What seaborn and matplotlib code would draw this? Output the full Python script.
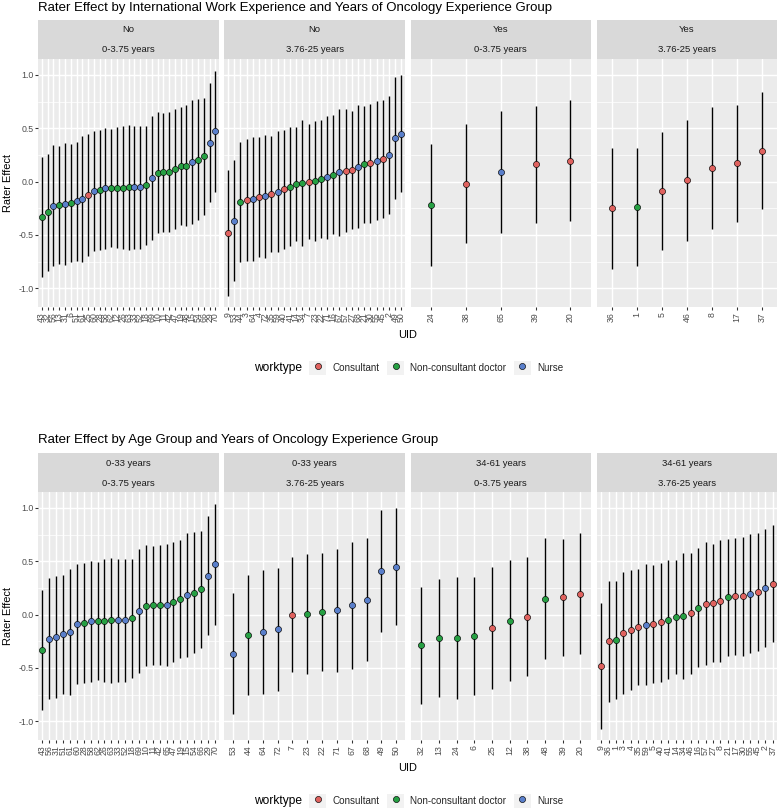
import numpy as np
import pandas as pd
import matplotlib
matplotlib.use("Agg")
import matplotlib.pyplot as plt
import seaborn as sns
from matplotlib.lines import Line2D
from matplotlib.patches import Patch

# ---------------- data (one entry per rater) ----------------
uid = [43, 32, 56, 13, 31, 6, 51, 61, 25, 60, 28, 58, 62, 26, 63, 33, 12, 52, 18, 69,
       10, 11, 42, 47, 19, 48, 15, 54, 66, 29, 70,
       9, 53, 44, 3, 64, 4, 72, 35, 59, 40, 41, 14, 34, 7, 23, 22, 71, 16, 67, 57,
       27, 68, 21, 30, 55, 45, 2, 49, 50,
       24, 38, 65, 39, 20,
       36, 1, 5, 46, 8, 17, 37]
worktype = ["N", "N", "R", "N", "R", "N", "R", "R", "C", "R", "N", "R", "N", "N", "N", "R", "N", "R", "N", "R",
            "N", "N", "N", "N", "N", "N", "R", "N", "N", "R", "R",
            "C", "R", "N", "C", "R", "C", "R", "C", "R", "C", "N", "N", "N", "C", "N", "N", "R", "N", "R", "C",
            "C", "R", "N", "C", "R", "C", "R", "R", "R",
            "N", "C", "R", "C", "C",
            "C", "N", "C", "C", "C", "C", "C"]
international = ["No"] * 60 + ["Yes"] * 12
oncology_exp = (["0-3.75 years"] * 31 + ["3.76-25 years"] * 29 +
                ["0-3.75 years"] * 5 + ["3.76-25 years"] * 7)
age_group = ["0-33 years", "34-61 years", "0-33 years", "34-61 years", "0-33 years", "34-61 years",
             "0-33 years", "0-33 years", "34-61 years", "0-33 years", "0-33 years", "0-33 years",
             "0-33 years", "0-33 years", "0-33 years", "0-33 years", "34-61 years", "0-33 years",
             "0-33 years", "0-33 years", "0-33 years", "0-33 years", "0-33 years", "0-33 years",
             "0-33 years", "34-61 years", "0-33 years", "0-33 years", "0-33 years", "0-33 years",
             "0-33 years",
             "34-61 years", "0-33 years", "0-33 years", "34-61 years", "0-33 years", "34-61 years",
             "0-33 years", "34-61 years", "34-61 years", "34-61 years", "34-61 years", "34-61 years",
             "34-61 years", "0-33 years", "0-33 years", "0-33 years", "0-33 years", "34-61 years",
             "0-33 years", "34-61 years", "34-61 years", "0-33 years", "34-61 years", "34-61 years",
             "34-61 years", "34-61 years", "34-61 years", "0-33 years", "0-33 years",
             "34-61 years", "34-61 years", "0-33 years", "34-61 years", "34-61 years",
             "34-61 years", "34-61 years", "34-61 years", "34-61 years", "34-61 years", "34-61 years",
             "34-61 years"]
rater_effect = [-0.33, -0.29, -0.225, -0.222, -0.21, -0.20, -0.185, -0.16, -0.125, -0.09,
                -0.078, -0.065, -0.060, -0.056, -0.055, -0.054, -0.057, -0.053, -0.037, 0.03,
                0.083, 0.085, 0.087, 0.12, 0.147, 0.15, 0.185, 0.206, 0.235, 0.365, 0.47,
                -0.48, -0.365, -0.19, -0.17, -0.16, -0.143, -0.14, -0.115, -0.094, -0.072,
                -0.047, -0.025, -0.01, 0.0, 0.006, 0.025, 0.038, 0.063, 0.085, 0.103,
                0.11, 0.14, 0.16, 0.172, 0.197, 0.213, 0.25, 0.41, 0.45,
                -0.218, -0.02, 0.09, 0.16, 0.195,
                -0.25, -0.24, -0.09, 0.01, 0.13, 0.17, 0.29]
ci_half_width = [0.56, 0.55, 0.57, 0.555, 0.57, 0.55, 0.555, 0.59, 0.575, 0.56,
                 0.56, 0.565, 0.55, 0.576, 0.585, 0.574, 0.566, 0.578, 0.557, 0.58,
                 0.567, 0.555, 0.563, 0.56, 0.553, 0.565, 0.58, 0.57, 0.55, 0.555, 0.57,
                 0.59, 0.565, 0.56, 0.57, 0.58, 0.563, 0.58, 0.545, 0.57, 0.557,
                 0.557, 0.535, 0.59, 0.54, 0.564, 0.555, 0.572, 0.557, 0.597, 0.577,
                 0.555, 0.575, 0.55, 0.558, 0.558, 0.552, 0.55, 0.57, 0.55,
                 0.57, 0.555, 0.57, 0.55, 0.565,
                 0.565, 0.555, 0.55, 0.57, 0.57, 0.545, 0.55]

worktype_codes = ["C", "N", "R"]
worktype_levels = ["Consultant", "Non-consultant doctor", "Nurse"]
worktype_colors = ["#E0625F", "#26A043", "#5A7FCB"]
exp_levels = ["0-3.75 years", "3.76-25 years"]
intl_levels = ["No", "Yes"]
age_levels = ["0-33 years", "34-61 years"]
y_ticks = [-1.0, -0.5, 0.0, 0.5, 1.0]
y_tick_labels = ["-1.0", "-0.5", "0.0", "0.5", "1.0"]
y_minor_ticks = [-0.75, -0.25, 0.25, 0.75]
titles = ["Rater Effect by International Work Experience and Years of Oncology Experience Group",
          "Rater Effect by Age Group and Years of Oncology Experience Group"]

# ---------------- frame ----------------
df = pd.DataFrame({
    "uid": uid,
    "worktype": [worktype_levels[worktype_codes.index(w)] for w in worktype],
    "international": international,
    "oncology_exp": oncology_exp,
    "age_group": age_group,
    "effect": rater_effect,
    "half": ci_half_width,
})
df["uid_str"] = df["uid"].astype(str)
df["lower"] = df["effect"] - df["half"]
df["upper"] = df["effect"] + df["half"]
palette = dict(zip(worktype_levels, worktype_colors))

# ---------------- style ----------------
sns.set_theme(style="white")
plt.rcParams["font.family"] = ["Liberation Sans", "DejaVu Sans"]
PX = 0.72  # px -> pt at 100 dpi

FS_TITLE = 13.2 * PX
FS_AXTEXT = 8.8 * PX
FS_STRIP = 9.5 * PX
FS_AXTITLE = 11 * PX
FS_LEGTEXT = 9.9 * PX
FS_LEGTITLE = 12.0 * PX

W, H = 780, 811
fig = plt.figure(figsize=(W / 100, H / 100), dpi=100)


def rect(x0, y0, x1, y1):
    return [x0 / W, 1 - y1 / H, (x1 - x0) / W, (y1 - y0) / H]


panel_x0, panel_w, gap = 38.3, 180.6, 5.5
strip_top, panel_top, panel_bot = 20.0, 59.3, 307.0

yr_lo = df["lower"].min()
yr_hi = df["upper"].max()
pad = 0.05 * (yr_hi - yr_lo)
ylim = (yr_lo - pad, yr_hi + pad)

charts = [("international", intl_levels, 0), ("age_group", age_levels, 433)]

for ci, (fvar, flevels, dy) in enumerate(charts):
    facets = [(a, b) for a in flevels for b in exp_levels]
    for k, (a, b) in enumerate(facets):
        x0 = panel_x0 + k * (panel_w + gap)
        x1 = x0 + panel_w
        sub = df[(df[fvar] == a) & (df["oncology_exp"] == b)]
        sub = sub.sort_values("effect", kind="mergesort")
        order = list(sub["uid_str"])
        n = len(order)

        ax = fig.add_axes(rect(x0, panel_top + dy, x1, panel_bot + dy))
        ax.set_facecolor("#EBEBEB")
        ax.vlines(np.arange(n), sub["lower"], sub["upper"], color="black",
                  lw=1.0, zorder=2)
        sns.stripplot(data=sub, x="uid_str", y="effect", hue="worktype",
                      hue_order=worktype_levels, palette=palette, order=order,
                      jitter=False, size=4.4, linewidth=0.45, edgecolor="black",
                      legend=False, ax=ax, zorder=3)
        ax.set_xlim(-0.6, n - 0.4)
        ax.set_ylim(*ylim)
        ax.set_yticks(y_ticks)
        ax.set_yticks(y_minor_ticks, minor=True)
        ax.set_axisbelow(True)
        ax.grid(True, which="major", color="white", lw=1.02)
        ax.grid(True, which="minor", axis="y", color="white", lw=0.51)
        ax.grid(False, which="minor", axis="x")
        for s in ax.spines.values():
            s.set_visible(False)
        ax.set_xlabel("")
        ax.set_ylabel("")
        ax.tick_params(axis="both", which="major", length=2.75 * PX, width=0.77,
                       color="#333333", labelsize=FS_AXTEXT, labelcolor="#4D4D4D",
                       pad=2.2 * PX, bottom=True, left=True)
        ax.tick_params(which="minor", length=0)
        ax.tick_params(axis="x", labelrotation=90)
        if k == 0:
            ax.set_yticklabels(y_tick_labels)
        else:
            ax.set_yticklabels([])
            ax.tick_params(axis="y", left=False)

        # strip
        sax = fig.add_axes(rect(x0, strip_top + dy, x1, panel_top + dy))
        sax.set_facecolor("#D9D9D9")
        sax.set_xticks([])
        sax.set_yticks([])
        for s in sax.spines.values():
            s.set_visible(False)
        hstrip = panel_top - strip_top
        sax.text(0.5, 1 - (30 - strip_top) / hstrip, a, ha="center", va="center",
                 fontsize=FS_STRIP, color="#1A1A1A", transform=sax.transAxes)
        sax.text(0.5, 1 - (50 - strip_top) / hstrip, b, ha="center", va="center",
                 fontsize=FS_STRIP, color="#1A1A1A", transform=sax.transAxes)

    # titles and labels
    fig.text(panel_x0 / W, 1 - (7.5 + dy) / H, titles[ci], ha="left", va="center",
             fontsize=FS_TITLE, color="black")
    fig.text(8 / W, 1 - ((panel_top + panel_bot) / 2 + dy) / H, "Rater Effect",
             rotation=90, ha="center", va="center", fontsize=FS_AXTITLE, color="black")
    fig.text((panel_x0 + 2 * panel_w + 1.5 * gap) / W, 1 - (335 + dy) / H, "UID",
             ha="center", va="center", fontsize=FS_AXTITLE, color="black")

    # legend
    fig.text(254 / W, 1 - (368 + dy) / H, "worktype", ha="left", va="center",
             fontsize=FS_LEGTITLE, color="black")
    handles = [(Patch(facecolor="#F2F2F2", edgecolor="none"),
                Line2D([], [], marker="o", ls="", markerfacecolor=c,
                       markeredgecolor="black", markeredgewidth=0.45, markersize=4.4))
               for c in worktype_colors]
    fig.legend(handles, worktype_levels, loc="center left",
               bbox_to_anchor=(309 / W, 1 - (368 + dy) / H), ncol=3, frameon=False,
               fontsize=FS_LEGTEXT, handlelength=1.75, handleheight=1.75,
               handletextpad=0.62, columnspacing=0.75, borderpad=0, borderaxespad=0)

fig.savefig("out.png", dpi=100)
